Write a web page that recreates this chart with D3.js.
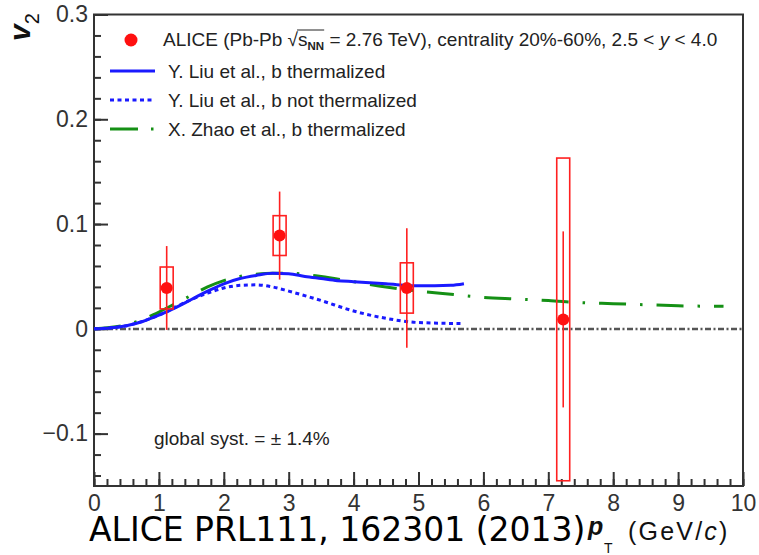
<!DOCTYPE html>
<html lang="en">
<head>
<meta charset="UTF-8">
<title>ALICE J/psi v2</title>
<script src="https://cdnjs.cloudflare.com/ajax/libs/d3/7.8.5/d3.min.js"></script>
<style>
    body { margin: 0; background: #fff; }
    svg { display: block; }
    .tick text { font-family: "Liberation Sans", Arial, sans-serif; font-size: 23px; fill: #333; }
    .tick line { stroke: #333; stroke-width: 2; }
    .legend text { font-family: "Liberation Sans", Arial, sans-serif; font-size: 19px; fill: #222; }
</style>
</head>
<body>
<div id="chart"></div>
<script>
    // ALICE data points (pT, v2, stat, syst)
    const ptValues = [1.12, 2.86, 4.82, 7.23];
    const v2Values = [0.039, 0.089, 0.039, 0.009];
    const statErrors = [0.040, 0.042, 0.057, 0.084];
    const systErrors = [0.020, 0.019, 0.024, 0.154];

    // Y. Liu et al., b thermalized
    const liuThermPt = [0, 0.25, 0.5, 0.75, 1.0, 1.25, 1.5, 1.75, 2.0, 2.25, 2.5, 2.75, 3.0, 3.25, 3.5, 3.75, 4.0, 4.5, 5.0, 5.5, 5.7];
    const liuThermV2 = [0, 0.0008, 0.003, 0.007, 0.013, 0.020, 0.028, 0.036, 0.043, 0.048, 0.051, 0.053, 0.0525, 0.050, 0.048, 0.046, 0.045, 0.043, 0.041, 0.0415, 0.043];

    // Y. Liu et al., b not thermalized
    const liuNoThermPt = [0, 0.5, 1.0, 1.5, 1.75, 2.0, 2.25, 2.5, 2.75, 3.0, 3.5, 4.0, 4.5, 5.0, 5.7];
    const liuNoThermV2 = [0, 0.003, 0.013, 0.028, 0.034, 0.039, 0.0415, 0.042, 0.040, 0.036, 0.027, 0.017, 0.010, 0.006, 0.005];

    // X. Zhao et al., b thermalized
    const zhaoPt = [0, 0.5, 0.75, 1.0, 1.25, 1.5, 1.75, 2.0, 2.25, 2.5, 2.75, 3.0, 3.5, 4.0, 4.5, 5.0, 5.5, 6.0, 6.5, 7.0, 7.5, 8.0, 8.5, 9.0, 9.7];
    const zhaoV2 = [0, 0.004, 0.009, 0.016, 0.024, 0.032, 0.040, 0.046, 0.050, 0.052, 0.053, 0.053, 0.050, 0.045, 0.040, 0.036, 0.033, 0.030, 0.0285, 0.027, 0.025, 0.024, 0.023, 0.022, 0.0215];

    const xTicks = d3.range(0, 11, 1);
    const yTicks = [-0.1, 0, 0.1, 0.2, 0.3];

    const width = 759, height = 555;
    const plotLeft = 94, plotRight = 743, plotTop = 14.5, plotBottom = 486;

    const svg = d3.select('#chart').append('svg')
        .attr('width', width)
        .attr('height', height);

    const x = d3.scaleLinear().domain([0, 10]).range([plotLeft, plotRight]);
    const y = d3.scaleLinear().domain([-0.15, 0.3]).range([plotBottom, plotTop]);

    // minor ticks
    svg.append('g')
        .attr('transform', `translate(0,${plotBottom})`)
        .call(d3.axisBottom(x).tickValues(d3.range(0, 10.01, 0.2)).tickSize(-7).tickFormat(''))
        .call(g => g.select('.domain').remove());
    svg.append('g')
        .attr('transform', `translate(${plotLeft},0)`)
        .call(d3.axisLeft(y).tickValues(d3.range(-0.14, 0.301, 0.02)).tickSize(-7).tickFormat(''))
        .call(g => g.select('.domain').remove());

    // major ticks
    svg.append('g')
        .attr('transform', `translate(0,${plotBottom})`)
        .call(d3.axisBottom(x).tickValues(xTicks).tickSize(-14).tickPadding(7).tickFormat(d3.format('d')))
        .call(g => g.select('.domain').remove())
        .call(g => g.selectAll('text').attr('dy', '0.71em').attr('y', 9));
    svg.append('g')
        .attr('transform', `translate(${plotLeft},0)`)
        .call(d3.axisLeft(y).tickValues(yTicks).tickSize(-14).tickPadding(6).tickFormat(d => d === 0 ? '0' : d3.format('.1f')(d)))
        .call(g => g.select('.domain').remove());

    // zero line
    svg.append('line')
        .attr('x1', x(0)).attr('x2', x(10))
        .attr('y1', Math.round(y(0))).attr('y2', Math.round(y(0)))
        .attr('stroke', '#555')
        .attr('stroke-width', 2.5)
        .attr('stroke-dasharray', '6,2.5,2,2.5');

    // frame
    svg.append('rect')
        .attr('x', plotLeft).attr('y', plotTop)
        .attr('width', plotRight - plotLeft).attr('height', plotBottom - plotTop)
        .attr('fill', 'none')
        .attr('stroke', '#333')
        .attr('stroke-width', 2);

    const line = d3.line()
        .x(d => x(d[0]))
        .y(d => y(d[1]))
        .curve(d3.curveMonotoneX);

    svg.append('path')
        .attr('d', line(d3.zip(zhaoPt, zhaoV2)))
        .attr('fill', 'none')
        .attr('stroke', '#159015')
        .attr('stroke-width', 3)
        .attr('stroke-dasharray', '27,14,2.5,14');

    svg.append('path')
        .attr('d', line(d3.zip(liuNoThermPt, liuNoThermV2)))
        .attr('fill', 'none')
        .attr('stroke', '#1a1aff')
        .attr('stroke-width', 3)
        .attr('stroke-dasharray', '4,3.5');

    svg.append('path')
        .attr('d', line(d3.zip(liuThermPt, liuThermV2)))
        .attr('fill', 'none')
        .attr('stroke', '#1a1aff')
        .attr('stroke-width', 3);

    const points = ptValues.map((p, i) => ({ pt: p, v2: v2Values[i], stat: statErrors[i], syst: systErrors[i] }));

    // systematic boxes
    svg.selectAll('.syst')
        .data(points)
        .enter()
        .append('rect')
        .attr('class', 'syst')
        .attr('x', d => x(d.pt - 0.1))
        .attr('y', d => y(d.v2 + d.syst))
        .attr('width', d => x(d.pt + 0.1) - x(d.pt - 0.1))
        .attr('height', d => y(d.v2 - d.syst) - y(d.v2 + d.syst))
        .attr('fill', 'none')
        .attr('stroke', '#ff2020')
        .attr('stroke-width', 1.6);

    // stat error bars
    svg.selectAll('.stat')
        .data(points)
        .enter()
        .append('line')
        .attr('class', 'stat')
        .attr('x1', d => x(d.pt)).attr('x2', d => x(d.pt))
        .attr('y1', d => y(d.v2 + d.stat))
        .attr('y2', d => y(d.v2 - d.stat))
        .attr('stroke', '#ff2020')
        .attr('stroke-width', 1.6);

    svg.selectAll('.pt')
        .data(points)
        .enter()
        .append('circle')
        .attr('class', 'pt')
        .attr('cx', d => x(d.pt))
        .attr('cy', d => y(d.v2))
        .attr('r', 6)
        .attr('fill', '#ff1010');

    // legend
    const legend = svg.append('g').attr('class', 'legend');
    legend.append('circle').attr('cx', 131).attr('cy', 40).attr('r', 6.5).attr('fill', '#ff1010');
    const t1 = legend.append('text').attr('x', 163).attr('y', 46);
    t1.append('tspan').text('ALICE (Pb-Pb ');
    t1.append('tspan').text('\u221A');
    t1.append('tspan').text('s');
    t1.append('tspan').attr('dy', 4).attr('font-size', 11.5).attr('font-weight', 'bold').text('NN');
    t1.append('tspan').attr('dy', -4).text(' = 2.76 TeV), centrality 20%-60%, 2.5 < ');
    t1.append('tspan').attr('font-style', 'italic').text('y');
    t1.append('tspan').text(' < 4.0');
    // overline of the square root
    const n0 = t1.node();
    const sq = n0.getExtentOfChar(13);
    const nn = n0.getExtentOfChar(16);
    legend.append('line')
        .attr('x1', sq.x + sq.width - 1).attr('x2', nn.x + nn.width)
        .attr('y1', sq.y + 1).attr('y2', sq.y + 1)
        .attr('stroke', '#222').attr('stroke-width', 1);

    const legendRows = [
        { label: 'Y. Liu et al., b thermalized', color: '#1a1aff', dash: null, y: 71 },
        { label: 'Y. Liu et al., b not thermalized', color: '#1a1aff', dash: '4,3.5', y: 100 },
        { label: 'X. Zhao et al., b thermalized', color: '#159015', dash: '28,13,2.5,20', y: 129 }
    ];
    legendRows.forEach(r => {
        legend.append('line')
            .attr('x1', 110).attr('x2', 155)
            .attr('y1', r.y).attr('y2', r.y)
            .attr('stroke', r.color)
            .attr('stroke-width', 3)
            .attr('stroke-dasharray', r.dash);
        legend.append('text').attr('x', 168).attr('y', r.y + 7).text(r.label);
    });

    legend.append('text')
        .attr('x', 154).attr('y', 445)
        .attr('font-size', 18.5)
        .text('global syst. = \u00B1 1.4%');

    // axis titles
    const yt = svg.append('text')
        .attr('transform', 'translate(30,41) rotate(-90)')
        .attr('font-family', '"Liberation Sans", Arial, sans-serif')
        .attr('fill', '#111');
    yt.append('tspan').attr('font-size', 30).attr('font-weight', 'bold').attr('font-style', 'italic').text('v');
    yt.append('tspan').attr('font-size', 20).attr('dy', 9).text('2');

    svg.append('text')
        .attr('x', 89).attr('y', 541)
        .attr('font-family', '"DejaVu Sans", Verdana, sans-serif')
        .attr('font-size', 33)
        .attr('fill', '#000')
        .text('ALICE PRL111, 162301 (2013)');

    const xt = svg.append('g')
        .attr('font-family', '"Liberation Sans", Arial, sans-serif')
        .attr('fill', '#111');
    xt.append('text').attr('x', 588).attr('y', 535)
        .attr('font-size', 25).attr('font-weight', 'bold').attr('font-style', 'italic').text('p');
    xt.append('text').attr('x', 604).attr('y', 553)
        .attr('font-size', 14).text('T');
    const unit = xt.append('text').attr('x', 628).attr('y', 540)
        .attr('font-size', 25).attr('letter-spacing', 2.2);
    unit.append('tspan').text('(GeV/');
    unit.append('tspan').attr('font-style', 'italic').text('c');
    unit.append('tspan').text(')');
</script>
</body>
</html>
